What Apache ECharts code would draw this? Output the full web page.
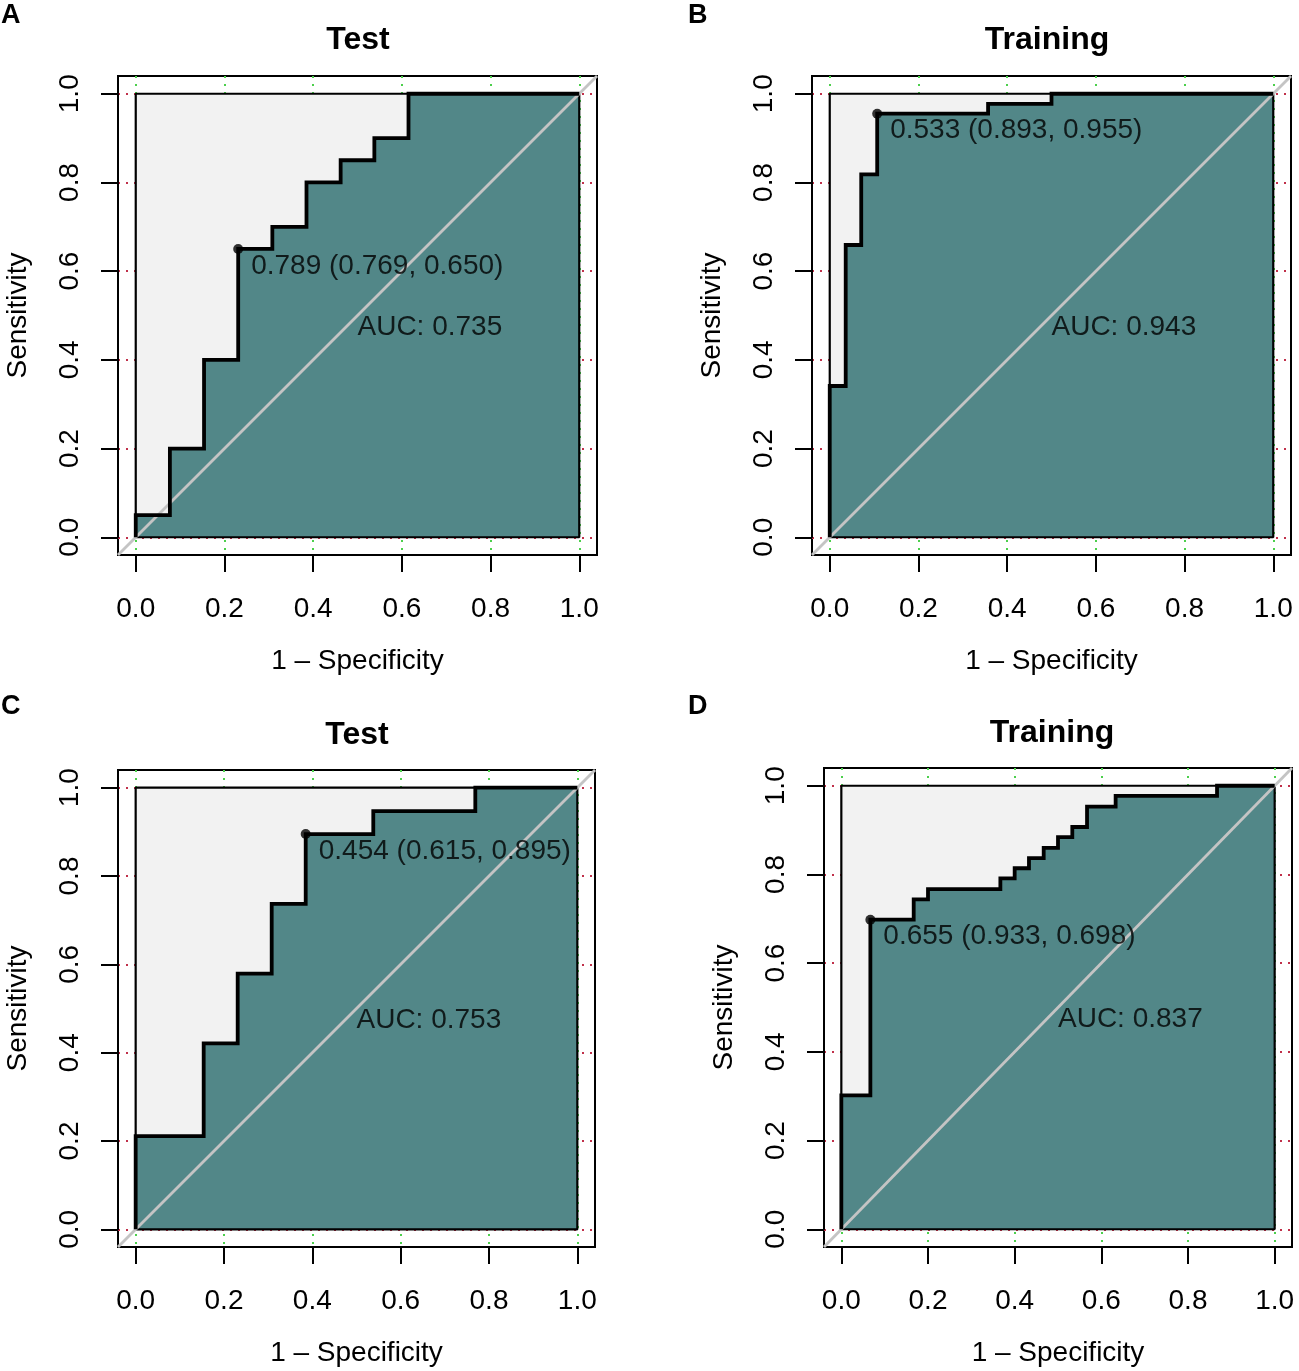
<!DOCTYPE html>
<html>
<head>
<meta charset="utf-8">
<script src="https://cdn.jsdelivr.net/npm/echarts@6/dist/echarts.min.js"></script>
<style>
html,body{margin:0;padding:0;background:#fff;}
#chart{width:1299px;height:1371px;}
</style>
</head>
<body>
<div id="chart"></div>
<script>
// ---------- data ----------
const xTicks = [0, 0.2, 0.4, 0.6, 0.8, 1.0];
const yTicks = [0, 0.2, 0.4, 0.6, 0.8, 1.0];
const tickStep = 0.2;
const panelLetters = ['A', 'B', 'C', 'D'];
const panelTitles = ['Test', 'Training', 'Test', 'Training'];
const xAxisTitle = '1 – Specificity';
const yAxisTitle = 'Sensitivity';
const aucValues = [0.735, 0.943, 0.753, 0.837];
const thresholdValues = [0.789, 0.533, 0.454, 0.655];
const thresholdSpecificity = [0.769, 0.893, 0.615, 0.933];
const thresholdSensitivity = [0.650, 0.955, 0.895, 0.698];

// ROC step vertices: 1 - specificity (fpr) and sensitivity (tpr)
const rocA_fpr = [0, 0, 0.077, 0.077, 0.154, 0.154, 0.231, 0.231, 0.308, 0.308, 0.385, 0.385, 0.462, 0.462, 0.538, 0.538, 0.615, 0.615, 1.0];
const rocA_tpr = [0, 0.05, 0.05, 0.20, 0.20, 0.40, 0.40, 0.65, 0.65, 0.70, 0.70, 0.80, 0.80, 0.85, 0.85, 0.90, 0.90, 1.0, 1.0];

const rocB_fpr = [0, 0, 0.036, 0.036, 0.071, 0.071, 0.107, 0.107, 0.357, 0.357, 0.5, 0.5, 1.0];
const rocB_tpr = [0, 0.341, 0.341, 0.659, 0.659, 0.818, 0.818, 0.955, 0.955, 0.977, 0.977, 1.0, 1.0];

const rocC_fpr = [0, 0, 0.154, 0.154, 0.231, 0.231, 0.308, 0.308, 0.385, 0.385, 0.538, 0.538, 0.769, 0.769, 1.0];
const rocC_tpr = [0, 0.211, 0.211, 0.421, 0.421, 0.579, 0.579, 0.737, 0.737, 0.895, 0.895, 0.947, 0.947, 1.0, 1.0];

const rocD_fpr = [0, 0, 0.067, 0.067, 0.167, 0.167, 0.2, 0.2, 0.367, 0.367, 0.4, 0.4, 0.433, 0.433, 0.467, 0.467, 0.5, 0.5, 0.533, 0.533, 0.567, 0.567, 0.633, 0.633, 0.867, 0.867, 1.0];
const rocD_tpr = [0, 0.302, 0.302, 0.698, 0.698, 0.744, 0.744, 0.767, 0.767, 0.791, 0.791, 0.814, 0.814, 0.837, 0.837, 0.860, 0.860, 0.884, 0.884, 0.907, 0.907, 0.953, 0.953, 0.977, 0.977, 1.0, 1.0];

const rocFpr = [rocA_fpr, rocB_fpr, rocC_fpr, rocD_fpr];
const rocTpr = [rocA_tpr, rocB_tpr, rocC_tpr, rocD_tpr];

// unit square (max AUC polygon) and axis domain
const squareX = [0, 1, 1, 0, 0];
const squareY = [0, 0, 1, 1, 0];
const axisMin = -0.04, axisMax = 1.04;
const aucTextPos = [0.5, 0.5];

// ---------- layout / style ----------
const FONT = 'Liberation Sans, Arial, Helvetica, sans-serif';
const TEAL = '#528788';
const GREY = '#f2f2f2';
const outer = [
  {left: 118, top: 76, width: 479, height: 479},
  {left: 812, top: 76, width: 479, height: 479},
  {left: 118, top: 770, width: 477, height: 477},
  {left: 824, top: 768, width: 468, height: 479}
];
const pad = (axisMax - 1) / (axisMax - axisMin);  // fraction of the box outside [0,1]
const inner = outer.map(g => {
  const dx = g.width * pad, dy = g.height * pad;
  return {left: g.left + dx, top: g.top + dy, width: g.width - 2 * dx, height: g.height - 2 * dy, dx, dy};
});
const titlePos = [[358, 40], [1047, 40], [357, 735], [1052, 733]];
const letterPos = [[1, 16], [688, 16], [1, 707], [688, 707]];

const zip = (xs, ys) => xs.map((x, k) => [x, ys[k]]);
const fmt = v => Number(v).toFixed(1);

const grid = [];
const xAxis = [];
const yAxis = [];
outer.forEach((g, i) => {
  grid.push({left: g.left, top: g.top, width: g.width, height: g.height,
    show: true, borderColor: '#000', borderWidth: 2, backgroundColor: 'transparent',
    containLabel: false, outerBoundsMode: 'none'});
  xAxis.push({
    gridIndex: i, type: 'value', min: axisMin, max: axisMax,
    axisLine: {show: false, onZero: false},
    axisTick: {show: false, customValues: xTicks},
    axisLabel: {show: false, customValues: xTicks},
    splitLine: {show: true, lineStyle: {color: '#4ccf4c', type: [2, 6], width: 2}}
  });
  yAxis.push({
    gridIndex: i, type: 'value', min: axisMin, max: axisMax,
    axisLine: {show: false, onZero: false},
    axisTick: {show: false, customValues: yTicks},
    axisLabel: {show: false, customValues: yTicks},
    splitLine: {show: true, lineStyle: {color: '#c0304a', type: [2, 6], width: 2}}
  });
});
inner.forEach((g, i) => {
  grid.push({left: g.left, top: g.top, width: g.width, height: g.height,
    show: false, containLabel: false, outerBoundsMode: 'none'});
  xAxis.push({
    gridIndex: 4 + i, type: 'value', min: xTicks[0], max: xTicks[xTicks.length - 1], interval: tickStep,
    position: 'bottom', offset: g.dy,
    axisLine: {show: true, onZero: false, lineStyle: {color: '#000', width: 2}},
    axisTick: {show: true, length: 17, inside: false, lineStyle: {color: '#000', width: 2}},
    axisLabel: {show: true, formatter: fmt, fontSize: 28, color: '#000', margin: 40, fontFamily: FONT},
    splitLine: {show: false},
    name: xAxisTitle, nameLocation: 'middle', nameGap: 92,
    nameTextStyle: {fontSize: 28, color: '#000', fontFamily: FONT}
  });
  yAxis.push({
    gridIndex: 4 + i, type: 'value', min: yTicks[0], max: yTicks[yTicks.length - 1], interval: tickStep,
    position: 'left', offset: g.dx,
    axisLine: {show: true, onZero: false, lineStyle: {color: '#000', width: 2}},
    axisTick: {show: true, length: 17, inside: false, lineStyle: {color: '#000', width: 2}},
    axisLabel: {show: true, formatter: fmt, fontSize: 28, color: '#000', margin: 34, rotate: 90, fontFamily: FONT},
    splitLine: {show: false},
    name: yAxisTitle, nameLocation: 'middle', nameGap: 86,
    nameTextStyle: {fontSize: 28, color: '#000', fontFamily: FONT}
  });
});

const option = {
  animation: false,
  backgroundColor: '#fff',
  textStyle: {fontFamily: FONT},
  grid, xAxis, yAxis,
  graphic: [],
  series: []
};

outer.forEach((g, i) => {
  const common = {xAxisIndex: i, yAxisIndex: i, silent: true, animation: false};
  // grey max-AUC square
  option.series.push(Object.assign({
    type: 'line', symbol: 'none', z: 2,
    data: [[squareX[0], squareY[2]], [squareX[1], squareY[2]]],
    lineStyle: {width: 0, opacity: 0},
    areaStyle: {color: GREY, opacity: 1}
  }, common));
  // teal AUC polygon
  option.series.push(Object.assign({
    type: 'line', symbol: 'none', z: 3,
    data: zip(rocFpr[i], rocTpr[i]),
    lineStyle: {width: 0, opacity: 0},
    areaStyle: {color: TEAL, opacity: 1}
  }, common));
  // square outline
  option.series.push(Object.assign({
    type: 'line', symbol: 'none', z: 4,
    data: zip(squareX, squareY),
    lineStyle: {color: '#000', width: 2.2}
  }, common));
  // identity diagonal
  option.series.push(Object.assign({
    type: 'line', symbol: 'none', z: 5, clip: true,
    data: [[axisMin, axisMin], [axisMax, axisMax]],
    lineStyle: {color: '#c4c4c4', width: 2.8}
  }, common));
  // ROC curve
  option.series.push(Object.assign({
    type: 'line', symbol: 'none', z: 6,
    data: zip(rocFpr[i], rocTpr[i]),
    lineStyle: {color: '#000', width: 3.8, join: 'miter'}
  }, common));
  // best threshold point
  option.series.push(Object.assign({
    type: 'scatter', z: 7, symbol: 'circle', symbolSize: 10,
    itemStyle: {color: '#000'},
    data: [[+(1 - thresholdSpecificity[i]).toFixed(3), thresholdSensitivity[i]]],
    label: {
      show: true, position: [18, 22], align: 'left', verticalAlign: 'middle',
      fontSize: 28, color: '#000', fontFamily: FONT,
      formatter: () => thresholdValues[i].toFixed(3) + ' (' + thresholdSpecificity[i].toFixed(3) + ', ' + thresholdSensitivity[i].toFixed(3) + ')'
    }
  }, common));
  // AUC text
  option.series.push(Object.assign({
    type: 'scatter', z: 7, symbol: 'circle', symbolSize: 1,
    itemStyle: {color: 'rgba(0,0,0,0)'},
    data: [aucTextPos],
    label: {
      show: true, position: [0.5, 12], align: 'left', verticalAlign: 'middle',
      fontSize: 28, color: '#000', fontFamily: FONT,
      formatter: () => 'AUC: ' + aucValues[i].toFixed(3)
    }
  }, common));
  // titles and panel letters
  option.graphic.push({
    type: 'text', x: titlePos[i][0], y: titlePos[i][1], silent: true,
    style: {text: panelTitles[i], fontSize: 32, fontWeight: 'bold', fill: '#000',
      fontFamily: FONT, align: 'center', verticalAlign: 'middle'}
  });
  option.graphic.push({
    type: 'text', x: letterPos[i][0], y: letterPos[i][1], silent: true,
    style: {text: panelLetters[i], fontSize: 27, fontWeight: 'bold', fill: '#000',
      fontFamily: FONT, align: 'left', verticalAlign: 'middle'}
  });
});

const chart = echarts.init(document.getElementById('chart'), null, {renderer: 'canvas'});
chart.setOption(option);
</script>
</body>
</html>
